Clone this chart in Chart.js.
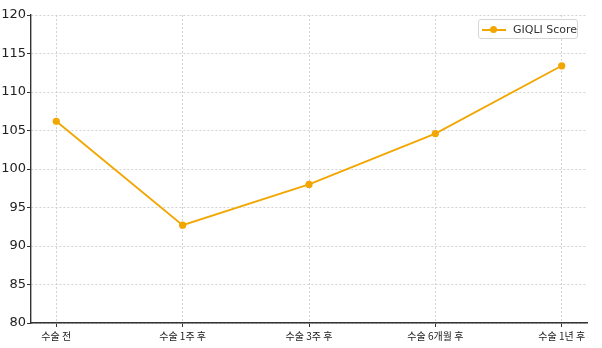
<!DOCTYPE html>
<html>
<head>
<meta charset="utf-8">
<script src="https://cdn.jsdelivr.net/npm/chart.js@4/dist/chart.umd.min.js"></script>
<style>
  html, body { margin: 0; padding: 0; background: #fff; }
  #wrap { position: relative; width: 602px; height: 348px; }
  #legend {
    position: absolute; left: 478px; top: 19px; width: 100px; height: 20px;
    box-sizing: border-box; border: 1px solid #d6d6d6; border-radius: 3px;
    background: rgba(255,255,255,0.9);
    font: 11px "DejaVu Sans", sans-serif; color: #333;
  }
  #legend .mark { position: absolute; left: 3px; top: 9px; width: 24px; height: 2px; background: #f2a600; }
  #legend .dot { position: absolute; left: 11px; top: 6px; width: 7px; height: 7px; border-radius: 50%; background: #f2a600; }
  #legend .txt { position: absolute; left: 34px; top: 3px; white-space: nowrap; }
</style>
</head>
<body>
<div id="wrap">
  <canvas id="chart" width="602" height="348"></canvas>
  <div id="legend"><span class="mark"></span><span class="dot"></span><span class="txt">GIQLI Score</span></div>
</div>
<script>
const stages = ["수술 전", "수술 1주 후", "수술 3주 후", "수술 6개월 후", "수술 1년 후"];
const giqliScore = [106.2, 92.7, 98.0, 104.6, 113.4];
const yTicks = [80, 85, 90, 95, 100, 105, 110, 115, 120];

const lineColor = "#f2a600";
const gridColor = "rgba(200, 200, 200, 0.8)";

const ctx = document.getElementById("chart").getContext("2d");
new Chart(ctx, {
  type: "line",
  data: {
    datasets: [
      {
        label: "GIQLI Score",
        data: giqliScore.map((v, i) => ({ x: i, y: v })),
        borderColor: lineColor,
        backgroundColor: lineColor,
        borderWidth: 1.8,
        pointRadius: 3.6,
        pointBorderWidth: 0,
        tension: 0
      }
    ]
  },
  options: {
    responsive: false,
    animation: false,
    layout: { padding: { top: 15, right: 15, left: 0, bottom: 0 } },
    plugins: { legend: { display: false }, tooltip: { enabled: false } },
    scales: {
      x: {
        type: "linear",
        min: -0.2,
        max: stages.length - 1 + 0.2,
        afterBuildTicks: (scale) => {
          scale.ticks = stages.map((_, i) => ({ value: i }));
        },
        afterFit: (scale) => { scale.height = 25; },
        grid: { color: gridColor, tickColor: "#333", tickLength: 4 },
        border: { color: "#333", width: 1.4, dash: [2, 2] },
        ticks: {
          autoSkip: false,
          maxRotation: 0,
          padding: 3,
          color: "#222",
          font: { family: '"Noto Sans CJK KR", sans-serif', size: 10 },
          callback: (value) => stages[value]
        }
      },
      y: {
        min: yTicks[0],
        max: yTicks[yTicks.length - 1],
        afterBuildTicks: (scale) => {
          scale.ticks = yTicks.map((v) => ({ value: v }));
        },
        afterFit: (scale) => { scale.width = 31; },
        grid: { color: gridColor, tickColor: "#333", tickLength: 4 },
        border: { color: "#333", width: 1.4, dash: [2, 2] },
        ticks: {
          padding: 1,
          color: "#222",
          font: { family: '"DejaVu Sans", sans-serif', size: 13 }
        }
      }
    }
  }
});
</script>
</body>
</html>
